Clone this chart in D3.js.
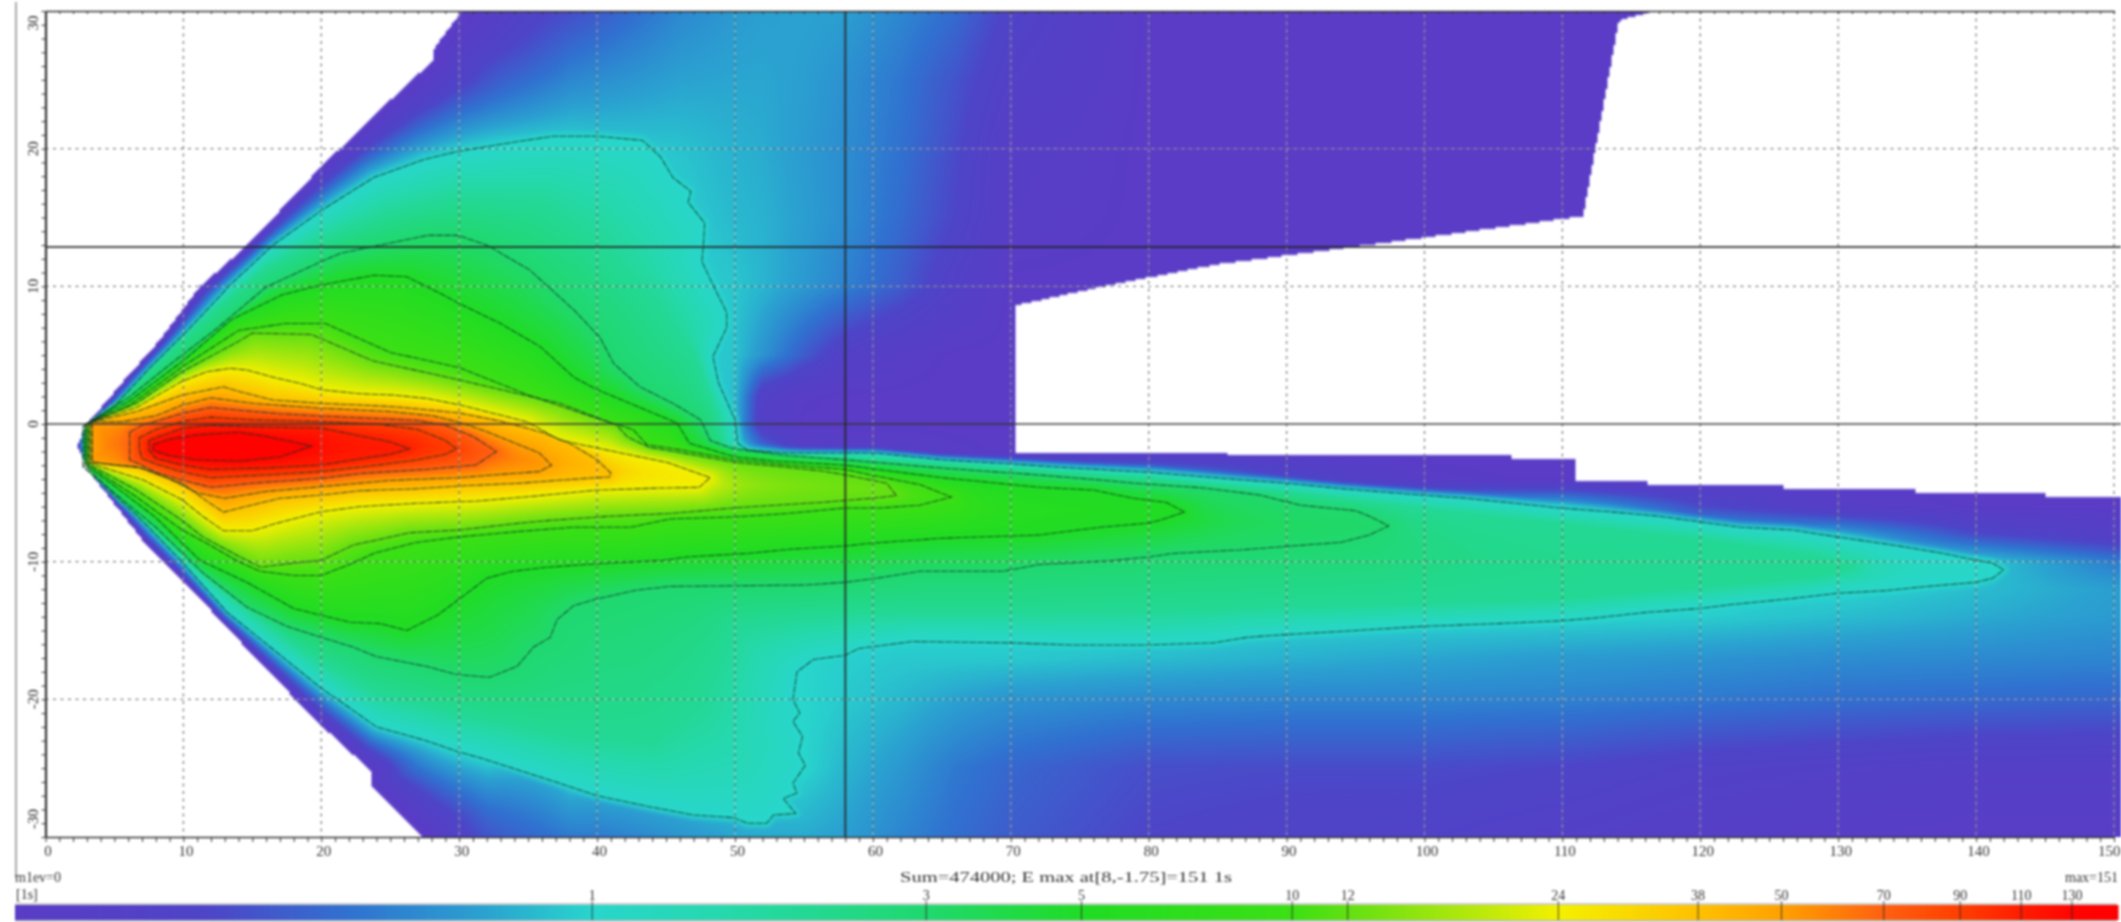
<!DOCTYPE html>
<html>
<head>
<meta charset="utf-8">
<script src="https://d3js.org/d3.v7.min.js"></script>
<style>
    html, body { margin: 0; padding: 0; background: #fff; overflow: hidden; }
    svg { display: block; filter: blur(0.85px); }
    text { font-family: "Liberation Serif", serif; fill: #333; }
    .axis path, .axis line { stroke: #333; }
</style>
</head>
<body>
<svg id="chart" width="2121" height="922"></svg>
<script>
    // contour levels in seconds, colour bar is log scaled over them
    var contourLevels = [1, 3, 5, 10, 12, 24, 38, 50, 70, 90, 110, 130];
    var xTicks = d3.range(0, 151, 10);
    var yTicks = [30, 20, 10, 0, -10, -20, -30];

    var colorStops = [0.15, 0.28, 0.45, 0.7, 1, 1.5, 2, 3, 5, 10, 12, 18, 24, 38, 50, 70, 90, 110, 130, 151];
    var colorValues = ['#5a3cc6', '#4e44c8', '#3072d0', '#2aa2d0', '#28d6cc', '#26d8ae', '#23d894', '#20d86e', '#20dc24', '#3ce014',
        '#62e012', '#b4e80c', '#f4f000', '#ffc000', '#ffa000', '#ff6010', '#ff3e00', '#ff1c00', '#ff0400', '#ff0000'];

    // crosshair position and the stats printed under the plot
    var crossX = 58;
    var crossY = 12.85;
    var maxValue = 151;
    var sumLabel = 'Sum=474000; E max at[8,-1.75]=151 1s';

    // the white notch / cone outline of the field
    var coneUpper = [[2.3, -1.6], [3, 0], [5.9, 3.4], [8.3, 6.1], [11.2, 10], [14.5, 12.85], [20, 18.7], [25.5, 24], [28.2, 26.5], [28.2, 27.3], [30.2, 30]];
    var coneLower = [[27.4, -30], [23.7, -26.4], [23.7, -25.3], [20, -21.9], [15.8, -17.6], [12.9, -14.5], [9.9, -11.3], [7, -8.4], [3.2, -3.5]];
    var rightSide = [[116.6, 30], [114.1, 29.3], [111.5, 15.1], [98.2, 13.3], [85, 11.6], [77.2, 10.1], [70.3, 8.6], [70.3, -2.1],
        [85.7, -2.1], [85.7, -2.28], [106.3, -2.28], [106.3, -2.6], [110.9, -2.6], [110.9, -4.2], [116.2, -4.2], [116.2, -4.4],
        [126, -4.4], [126, -4.7], [135.6, -4.7], [135.6, -5], [145, -5], [145, -5.3], [152, -5.3], [152, -30]];

    // contours, [x, y]
    var level1 = [[2.7, -.2], [5, 1.3], [7.5, 4], [10.5, 7], [13.5, 10.2], [16.5, 13], [20, 15.5], [21.4, 16.4], [23.8, 17.9], [27.4, 19.2], [29.9, 19.8], [33.5, 20.4], [36.8, 20.9], [40, 20.9], [43.3, 20.6], [44.6, 19.4], [45.5, 17.9], [46.8, 16.9], [46.6, 16.1], [47.8, 14.6], [47.7, 12.9], [47.6, 11.8], [48.5, 9.9], [49.4, 8.1], [49.4, 7], [48.4, 4.9], [48.8, 3], [50, .3], [50.2, -1.4], [50.9, -1.9], [53.8, -2.1], [60.1, -2.1], [65, -2.6], [70, -2.9], [74.5, -3.2], [80, -3.5], [86, -4], [90, -4.3], [94, -4.7], [99, -5.1], [103, -5.4], [106, -5.7], [109.8, -6.1], [113.7, -6.4], [117, -6.7], [119.9, -7.1], [122.9, -7.5], [126.7, -7.7], [129.9, -8.2], [134, -8.8], [137.6, -9.4], [140, -9.9], [141.2, -10.1], [142, -10.6], [141.2, -11.2], [140, -11.5], [136.4, -11.8], [133.5, -12.1], [129.9, -12.3], [126.5, -12.7], [122.4, -13.1], [120, -13.4], [115.9, -13.7], [112.3, -14.1], [109.8, -14.3], [105.3, -14.5], [99.9, -14.7], [95.1, -15], [89.8, -15.3], [87.1, -15.5], [84.7, -15.9], [80, -16.05], [74.5, -16.05], [70, -15.9], [62.9, -15.8], [59, -16.3], [58, -16.8], [55.7, -17.1], [54.5, -18], [54.2, -20], [54.7, -21], [54.2, -21.6], [54.9, -22.7], [54.6, -23.9], [55.1, -24.8], [54.2, -26.1], [54.5, -26.8], [53.5, -27.2], [54.4, -28.3], [52.8, -28.4], [52.3, -29], [50.9, -29], [49.9, -28.6], [47, -28.4], [43.8, -27.8], [40, -27], [37.3, -26.1], [31.7, -24.3], [29.9, -23.8], [27.6, -23], [24, -22], [21.6, -20.3], [20, -19.2], [16.3, -16.2], [13.2, -13.7], [9.8, -9.9], [6.5, -6.5], [2.7, -3.1]];
    var level3 = [[2.8, -.1], [6, 1.9], [9, 4.3], [12.5, 7], [16, 9.95], [20, 11.8], [21.4, 12.4], [23.8, 12.9], [27.7, 13.7], [29.9, 13.7], [32, 13], [35.1, 11.2], [38.3, 8.3], [40.2, 6.3], [41.2, 4.4], [43.1, 2.7], [45.5, 1.5], [47.5, .3], [47.8, -.3], [48.2, -1.2], [49.9, -1.8], [53.8, -2.3], [58, -2.6], [65, -3.2], [72, -3.7], [76.5, -4.07], [79, -4.3], [84, -4.65], [88, -5.15], [91, -5.9], [95, -6.3], [96, -6.7], [97.4, -7.4], [96, -8.06], [93.9, -8.6], [91.2, -8.8], [86.6, -9.15], [81.8, -9.4], [80, -9.66], [77, -9.95], [72.1, -10.2], [69.4, -10.7], [63.4, -10.7], [60.3, -11.2], [58, -11.5], [55, -11.7], [45.3, -11.8], [42.9, -12.06], [40, -12.7], [38.3, -13.2], [37.1, -14.2], [36.6, -15.5], [35.4, -16.2], [34.2, -17.6], [32.2, -18.4], [29.8, -18.2], [27.6, -17.6], [24, -16.9], [22.3, -16.2], [20, -15.5], [17.5, -14.7], [14.6, -13.3], [11.4, -10.8], [8, -7.5], [5, -5], [2.8, -3.05]];
    var level5 = [[2.9, 0], [6, 1.6], [10, 4.6], [13.5, 7.6], [17.2, 9.4], [20, 10.1], [23.8, 10.8], [26.2, 10.7], [28.6, 9.5], [29.9, 8.8], [33, 7.3], [35.9, 5.6], [38.3, 3.4], [40, 2.5], [43.1, 1.2], [45.8, .07], [46.7, -1.4], [50, -2.4], [53, -2.7], [58, -3], [65, -3.9], [72.1, -4.6], [76, -4.8], [78.9, -5.4], [81.3, -5.7], [82.6, -6.4], [80.8, -7], [80, -7.2], [76.5, -7.5], [72.1, -8.06], [65, -8.3], [60, -8.65], [58, -8.86], [54.2, -9.08], [50.9, -9.4], [46.5, -9.66], [44.8, -9.9], [40.9, -10.1], [36.4, -10.4], [33.9, -10.7], [32, -11.2], [29.9, -12.8], [28.4, -13.9], [26.2, -15], [24.3, -14.5], [22.1, -14.4], [20, -13.9], [18, -13.4], [14.6, -11.5], [11.2, -9.9], [8, -6.8], [5, -4.5], [2.9, -3]];
    var level10 = [[3, .05], [6, 1.3], [10, 4.2], [14, 6.8], [17.4, 7.3], [20.3, 7.3], [25, 5.2], [30, 4.1], [35, 2.1], [40, .4], [42.6, -.4], [43.6, -1.5], [46.2, -1.9], [50, -2.6], [54, -3], [58, -3.3], [59.8, -3.7], [63.4, -4.4], [65.4, -5.2], [65.7, -5.3], [63.4, -5.9], [60.5, -6.1], [58, -6.1], [53.8, -6.5], [49.9, -6.75], [45.3, -6.9], [42.4, -7.5], [38.3, -7.5], [34.4, -7.8], [30, -8.2], [26.9, -8.6], [23.8, -9.4], [22.3, -10.1], [20, -11], [18, -11], [15.6, -10.7], [14, -10], [11.4, -8.5], [9.9, -7.7], [6.6, -5.3], [3, -2.95]];
    var level12 = [[3.1, .1], [6.6, 1.5], [9.9, 3.8], [14, 6], [15, 6.6], [19.3, 6.5], [23.7, 4.6], [30, 3.2], [37.3, 1.5], [41.4, -.07], [42.2, -.94], [43.8, -1.7], [46.2, -2.1], [50.1, -2.8], [53.3, -3.1], [56.2, -3.4], [58, -3.7], [61, -4.3], [61.7, -5.2], [59.9, -5.4], [56.2, -5.7], [51.3, -6], [49.9, -6.1], [45.3, -6.5], [40.9, -6.7], [36.6, -7], [34.4, -7.2], [30, -7.7], [26.4, -7.9], [22.3, -8.8], [20, -9.9], [18, -10.1], [15.6, -10.4], [14, -9.6], [11.4, -8.2], [9.9, -7], [6.6, -4.8], [3.1, -2.9]];
    var level24 = [[3.2, .12], [6.6, 1.2], [9.9, 3.1], [11.7, 3.8], [13.4, 4.04], [14.6, 3.92], [16.8, 3.32], [18.5, 2.95], [20.1, 2.47], [22.8, 2.2], [25.2, 2.1], [27.6, 1.86], [30, 1.4], [32.5, .77], [34.9, .17], [37.3, -1.17], [41.7, -2.1], [45.1, -2.8], [48.2, -3.9], [47.4, -4.6], [44.6, -4.65], [40, -4.8], [35.9, -5.2], [31.3, -5.6], [26.9, -5.76], [22.8, -6], [20, -6.37], [16.8, -7.2], [15, -7.75], [12.9, -7.75], [11.4, -6.7], [9.9, -5.5], [7.1, -4.07], [3.2, -2.85]];
    var level38 = [[3.3, .14], [6.6, .9], [9.9, 2.1], [11.7, 2.46], [12.9, 2.7], [14.1, 2.35], [16.5, 1.74], [20, 1.5], [22.8, 1.38], [25.2, 1.26], [28, 1], [30, .8], [33, .2], [36, -.6], [38, -1.4], [40, -2.6], [41, -3.56], [40.9, -3.85], [40, -3.9], [37.5, -4.07], [34.4, -4.3], [30, -4.5], [27, -4.7], [22.8, -4.85], [20, -5.16], [17, -5.4], [15.5, -5.76], [12.9, -6.4], [11.7, -5.6], [9.9, -4.3], [6.6, -3.1], [3.3, -2.8]];
    var level50 = [[3.4, .17], [5.6, .17], [8, .6], [10, 1.4], [12, 1.9], [15, 1.5], [20, 1.14], [25, .9], [28, .6], [29.9, .17], [32, -.56], [35.8, -2.1], [36.7, -3], [35.8, -3.46], [32.5, -3.7], [30, -3.9], [25, -4.1], [20, -4.55], [16, -4.9], [13, -5.4], [11, -5], [9, -4], [7, -3.2], [5, -3], [3.4, -2.75]];
    var level70 = [[6.1, -.6], [7, -.1], [8, .2], [10, .8], [12, 1.2], [14, 1], [17, .75], [20, .58], [24, .4], [27, .25], [29, -.1], [31, -.9], [32.7, -2], [31.2, -2.98], [27.6, -3.3], [22.8, -3.6], [20, -3.95], [15, -4.3], [12, -4.6], [10, -4.1], [8, -3.5], [7, -3], [6.1, -2.6]];
    var level90 = [[6.8, -1], [8, -.4], [10, .2], [12, .5], [15, .3], [20, .17], [24, 0], [27, -.4], [29, -1.2], [29.8, -1.8], [29, -2.2], [27, -2.6], [24, -3], [20, -3.46], [16, -3.7], [12, -3.9], [10, -3.5], [8, -2.9], [7, -2.5], [6.8, -1.8]];
    var level110 = [[7.5, -1.2], [8, -1], [10, -.3], [12, -.1], [15, -.2], [20, -.3], [23, -.9], [25, -1.3], [26.4, -1.8], [25, -2.2], [23, -2.5], [20, -2.98], [16, -3.2], [12, -3.3], [10, -3], [8, -2.5], [7.5, -1.9]];
    var level130 = [[7.8, -1.5], [9, -1.1], [11, -.8], [14, -.6], [16, -.9], [19.3, -1.6], [17, -2.4], [14, -2.7], [11, -2.6], [9, -2.3], [7.8, -1.9]];
    var contourPaths = [level1, level3, level5, level10, level12, level24, level38, level50, level70, level90, level110, level130];

    // an undrawn 2 s ridge, the colour keeps rising past the nose of the 3 s line
    var ridge2 = [[2.75, -.15], [5.5, 1.9], [8, 4.4], [12, 8.2], [16, 11.4], [20, 13.4], [25, 15.3], [30, 16.3], [36, 15.8], [40, 13], [44, 9], [47, 5], [48.6, 1], [49.2, -1.6], [54, -2.2], [60, -2.5], [70, -3.2], [80, -3.9], [90, -4.9], [100, -6.2], [110, -7.3], [120, -8.4], [128, -9.6], [131, -10.4], [128, -11.1], [120, -11.8], [110, -12.6], [100, -13], [90, -13.2], [80, -13.6], [70, -13.7], [60, -13.7], [55, -14], [50, -14.6], [47.5, -20], [44, -23], [38, -22.5], [30, -21], [24, -19.5], [20, -17.3], [16, -14.5], [12, -11.5], [8, -8], [5, -5.3], [2.75, -3.07]];
    var fieldLevels = [1, 2].concat(contourLevels.slice(1));
    var fieldPaths = [level1, ridge2].concat(contourPaths.slice(1));

    // values under 1 s outside the outer contour, read per row (bgY) and column (bgX)
    var bgX = [30, 38, 46, 50, 52, 55, 58, 62, 66, 70, 80, 90, 100, 110, 120, 130, 140, 150];
    var bgY = [30, 25, 20, 15, 10, 5, 2, 0, -2, -4, -6, -8, -10, -12, -14, -17, -20, -25, -30];
    var bgValues = [
        [.15, .3, .55, .65, .68, .7, .68, .55, .42, .26, .15, .15, .15, .15, .15, .15, .15, .15],
        [.22, .55, .7, .72, .72, .68, .6, .47, .33, .22, .15, .15, .15, .15, .15, .15, .15, .15],
        [.9, .98, .88, .78, .75, .66, .58, .45, .3, .18, .15, .15, .15, .15, .15, .15, .15, .15],
        [1, 1, .95, .82, .78, .68, .58, .42, .28, .17, .15, .15, .15, .15, .15, .15, .15, .15],
        [1, 1, 1, .9, .8, .65, .52, .36, .22, .15, .15, .15, .15, .15, .15, .15, .15, .15],
        [1, 1, 1, .88, .62, .36, .22, .17, .15, .15, .15, .15, .15, .15, .15, .15, .15, .15],
        [1, 1, 1, .85, .22, .16, .15, .15, .15, .15, .15, .15, .15, .15, .15, .15, .15, .15],
        [1, 1, 1, .85, .2, .15, .15, .15, .15, .15, .15, .15, .15, .15, .15, .15, .15, .15],
        [1, 1, 1, 1, .5, .2, .18, .18, .16, .15, .15, .15, .15, .15, .15, .15, .15, .15],
        [1, 1, 1, 1, 1, 1, 1, 1, 1, 1, .85, .3, .16, .15, .15, .15, .15, .15],
        [1, 1, 1, 1, 1, 1, 1, 1, 1, 1, 1, 1, .95, .85, .3, .18, .15, .15],
        [1, 1, 1, 1, 1, 1, 1, 1, 1, 1, 1, 1, 1, 1, .85, .75, .3, .2],
        [1, 1, 1, 1, 1, 1, 1, 1, 1, 1, 1, 1, 1, 1, 1, 1, .95, .5],
        [1, 1, 1, 1, 1, 1, 1, 1, 1, 1, 1, 1, 1, 1, 1, 1, .85, .68],
        [1, 1, 1, 1, 1, 1, 1, 1, 1, 1, 1, 1, 1, 1, .95, .85, .75, .66],
        [1, 1, 1, 1, 1, 1, .95, .92, .92, .92, .85, .78, .72, .66, .62, .58, .56, .54],
        [1, 1, 1, 1, 1, 1, .92, .82, .7, .62, .56, .54, .54, .52, .48, .44, .42, .4],
        [.2, .95, 1, 1, 1, 1, .8, .64, .48, .4, .31, .3, .3, .28, .24, .22, .2, .2],
        [.16, .45, .62, .72, .74, .74, .68, .54, .43, .36, .28, .26, .25, .22, .19, .17, .16, .16]
    ];

    var width = 2121;
    var height = 922;
    var plotLeft = 45.5;
    var plotTop = 11;
    var plotBottom = 837;

    var x = d3.scaleLinear().domain([0, 150]).range([plotLeft, plotLeft + 150 * 13.79]);
    var y = d3.scaleLinear().domain([30, -30]).range([plotTop, plotBottom]);
    var color = d3.scaleLog().domain(colorStops).range(colorValues).interpolate(d3.interpolateRgb).clamp(true);
    var barX = d3.scaleLog().domain([0.15, maxValue]).range([15, 2117]);

    var svg = d3.select('#chart');

    var outline = coneUpper.concat(rightSide, coneLower);
    var coneEdge = coneUpper.slice().reverse().concat(coneLower.slice().reverse());

    function box(pts) {
        return [d3.min(pts, function(p) { return p[0]; }), d3.max(pts, function(p) { return p[0]; }),
            d3.min(pts, function(p) { return p[1]; }), d3.max(pts, function(p) { return p[1]; })];
    }
    var boxes = fieldPaths.map(box);

    function inside(i, px, py) {
        var b = boxes[i];
        if (px < b[0] || px > b[1] || py < b[2] || py > b[3]) return false;
        return d3.polygonContains(fieldPaths[i], [px, py]);
    }

    function distTo(pts, px, py, closed) {
        var best = Infinity;
        var n = pts.length;
        var last = closed ? n : n - 1;
        for (var i = 0; i < last; i++) {
            var a = pts[i], b = pts[(i + 1) % n];
            var dx = b[0] - a[0], dy = b[1] - a[1];
            var t = ((px - a[0]) * dx + (py - a[1]) * dy) / (dx * dx + dy * dy || 1);
            t = t < 0 ? 0 : t > 1 ? 1 : t;
            var ex = a[0] + t * dx - px, ey = a[1] + t * dy - py;
            var d = ex * ex + ey * ey;
            if (d < best) best = d;
        }
        return Math.sqrt(best);
    }

    function bgLookup(px, py) {
        var i = Math.min(Math.max(d3.bisectRight(bgX, px) - 1, 0), bgX.length - 2);
        var j = 0;
        while (j < bgY.length - 2 && py < bgY[j + 1]) j++;
        var u = Math.min(Math.max((px - bgX[i]) / (bgX[i + 1] - bgX[i]), 0), 1);
        var v = Math.min(Math.max((bgY[j] - py) / (bgY[j] - bgY[j + 1]), 0), 1);
        var a = Math.log(bgValues[j][i]), b = Math.log(bgValues[j][i + 1]);
        var c = Math.log(bgValues[j + 1][i]), e = Math.log(bgValues[j + 1][i + 1]);
        return (a * (1 - u) + b * u) * (1 - v) + (c * (1 - u) + e * u) * v;
    }

    function fieldAt(px, py) {
        var idx = -1;
        for (var i = 0; i < fieldPaths.length; i++) {
            if (inside(i, px, py)) idx = i; else if (i > idx + 1) break;
        }
        if (idx == fieldPaths.length - 1) return 140;
        if (idx >= 0) {
            var d0 = distTo(fieldPaths[idx], px, py, true);
            var d1 = distTo(fieldPaths[idx + 1], px, py, true);
            var t = d0 / (d0 + d1);
            return Math.exp(Math.log(fieldLevels[idx]) * (1 - t) + Math.log(fieldLevels[idx + 1]) * t);
        }
        var dc = distTo(level1, px, py, true);
        var lv = 0;
        var w = (px - 32) / 8;
        w = w < 0 ? 0 : w > 1 ? 1 : w;
        if (w < 1) {
            var de = distTo(coneEdge, px, py, false);
            lv += (1 - w) * (dc / (dc + de)) * Math.log(0.13);
        }
        if (w > 0) {
            var m = bgLookup(px, py);
            var f = dc / 0.5;
            f = f > 1 ? 1 : f;
            lv += w * m * f;
        }
        return Math.exp(lv);
    }

    // paint the field to a canvas, half resolution, then place it in the svg
    var step = 2;
    var cw = Math.ceil((width - plotLeft) / step);
    var ch = Math.ceil((plotBottom - plotTop) / step);
    var canvas = document.createElement('canvas');
    canvas.width = cw;
    canvas.height = ch;
    var ctx = canvas.getContext('2d');
    var img = ctx.createImageData(cw, ch);
    var cache = {};
    for (var r = 0; r < ch; r++) {
        var py = y.invert(plotTop + (r + 0.5) * step);
        for (var c = 0; c < cw; c++) {
            var px = x.invert(plotLeft + (c + 0.5) * step);
            if (!d3.polygonContains(outline, [px, py])) continue;
            var val = fieldAt(px, py);
            var key = Math.round(Math.log(val) * 150);
            var rgb = cache[key];
            if (!rgb) rgb = cache[key] = d3.rgb(color(val));
            var o = (r * cw + c) * 4;
            img.data[o] = rgb.r;
            img.data[o + 1] = rgb.g;
            img.data[o + 2] = rgb.b;
            img.data[o + 3] = 255;
        }
    }
    ctx.putImageData(img, 0, 0);

    svg.append('image')
        .attr('x', plotLeft)
        .attr('y', plotTop)
        .attr('width', cw * step)
        .attr('height', ch * step)
        .attr('preserveAspectRatio', 'none')
        .attr('href', canvas.toDataURL());

    // dotted grid, grey dash and white dash in between
    var grid = svg.append('g');
    function gridLines(cls, stroke, dash, off, alpha) {
        grid.selectAll('line.v' + cls).data(xTicks.slice(1))
            .enter().append('line').attr('class', 'v' + cls)
            .attr('x1', function(d) { return x(d); }).attr('x2', function(d) { return x(d); })
            .attr('y1', plotTop).attr('y2', plotBottom)
            .attr('stroke', stroke).attr('stroke-width', 1.3).attr('stroke-opacity', alpha)
            .attr('stroke-dasharray', dash).attr('stroke-dashoffset', off);
        grid.selectAll('line.h' + cls).data([20, 10, -10, -20])
            .enter().append('line').attr('class', 'h' + cls)
            .attr('x1', plotLeft).attr('x2', width)
            .attr('y1', function(d) { return y(d); }).attr('y2', function(d) { return y(d); })
            .attr('stroke', stroke).attr('stroke-width', 1.3).attr('stroke-opacity', alpha)
            .attr('stroke-dasharray', dash).attr('stroke-dashoffset', off);
    }
    gridLines('g', '#6d6d6d', '3 4.5', 0, 0.9);
    gridLines('w', '#ffffff', '2 5.5', 3.5, 0.55);

    // contours
    var line = d3.line().x(function(d) { return x(d[0]); }).y(function(d) { return y(d[1]); });
    svg.append('g').selectAll('path').data(contourPaths)
        .enter().append('path')
        .attr('d', function(d) { return line(d) + 'Z'; })
        .attr('fill', 'none')
        .attr('stroke', '#0c3320')
        .attr('stroke-opacity', 0.8)
        .attr('stroke-width', 1.05)
        .attr('stroke-dasharray', '7 1');

    // y = 0 line and the crosshair
    svg.append('line').attr('x1', plotLeft).attr('x2', width).attr('y1', y(0)).attr('y2', y(0))
        .attr('stroke', '#333').attr('stroke-opacity', 0.7).attr('stroke-width', 2);
    svg.append('line').attr('x1', plotLeft).attr('x2', width).attr('y1', y(crossY)).attr('y2', y(crossY))
        .attr('stroke', '#222').attr('stroke-opacity', 0.8).attr('stroke-width', 2);
    svg.append('line').attr('x1', x(crossX)).attr('x2', x(crossX)).attr('y1', plotTop).attr('y2', plotBottom)
        .attr('stroke', '#222').attr('stroke-opacity', 0.8).attr('stroke-width', 2);

    // outer grey rule on the far left
    svg.append('line').attr('x1', 16).attr('x2', 16).attr('y1', 2).attr('y2', 878)
        .attr('stroke', '#aaa').attr('stroke-width', 2);

    // axes
    var minor = function(s) {
        s.selectAll('text').remove();
        s.selectAll('line').attr('stroke', '#444');
    };
    svg.append('g').attr('class', 'axis').attr('transform', 'translate(' + plotLeft + ',0)')
        .call(d3.axisLeft(y).tickValues(d3.range(-30, 31)).tickSize(4).tickSizeOuter(0).tickFormat(''))
        .call(minor)
        .select('path').attr('stroke-width', 2.2);
    svg.append('g').attr('class', 'axis').attr('transform', 'translate(0,' + plotTop + ')')
        .call(d3.axisTop(x).tickValues(d3.range(0, 151)).tickSize(-3).tickSizeOuter(0).tickFormat(''))
        .call(minor)
        .select('path').attr('stroke-width', 1.6);
    svg.append('g').attr('class', 'axis').attr('transform', 'translate(0,' + plotBottom + ')')
        .call(d3.axisBottom(x).tickValues(d3.range(0, 151)).tickSize(5).tickSizeOuter(0).tickFormat(''))
        .call(minor)
        .select('path').attr('stroke-width', 1.6);

    var xLabels = svg.append('g').attr('transform', 'translate(0,' + (plotBottom + 6) + ')')
        .call(d3.axisBottom(x).tickValues(xTicks).tickSize(0).tickPadding(2));
    xLabels.select('path').remove();
    xLabels.selectAll('text')
        .style('font-size', '15px')
        .attr('text-anchor', function(d) { return d == 150 ? 'end' : 'middle'; })
        .attr('dx', function(d) { return d == 150 ? 6 : 2; });

    svg.append('g').selectAll('text').data(yTicks)
        .enter().append('text')
        .attr('transform', function(d) {
            var yy = y(d);
            if (d == 30) yy += 12;
            if (d == -30) yy -= 18;
            return 'translate(38,' + yy + ') rotate(-90)';
        })
        .attr('text-anchor', 'middle')
        .style('font-size', '15px')
        .text(function(d) { return d; });

    // lines under the plot
    svg.append('text').attr('x', 15).attr('y', 882).style('font-size', '14px').text('m1ev=0');
    svg.append('text').attr('x', 16).attr('y', 899).style('font-size', '14px').text('[1s]');
    svg.append('text').attr('x', 900).attr('y', 882).attr('textLength', 332).attr('lengthAdjust', 'spacingAndGlyphs')
        .style('font-size', '15px').text(sumLabel);
    svg.append('text').attr('x', 2118).attr('y', 882).attr('text-anchor', 'end').style('font-size', '14px').text('max=' + maxValue);

    // colour bar
    var barBottom = 920;
    var barTop = 905;
    var barRange = d3.range(15, 2117, 3);
    svg.append('g').selectAll('rect').data(barRange)
        .enter().append('rect')
        .attr('x', function(d) { return d; })
        .attr('y', barTop)
        .attr('width', 3.5)
        .attr('height', barBottom - barTop)
        .attr('fill', function(d) { return color(barX.invert(d)); });
    svg.append('line').attr('x1', 15).attr('x2', 2117).attr('y1', barTop - 1).attr('y2', barTop - 1).attr('stroke', '#bbb').attr('stroke-width', 1.5);
    svg.append('line').attr('x1', 15).attr('x2', 2117).attr('y1', barBottom + 1).attr('y2', barBottom + 1).attr('stroke', '#aaa').attr('stroke-width', 1.5);

    var barAxis = svg.append('g').attr('transform', 'translate(0,' + barBottom + ')')
        .call(d3.axisTop(barX).tickValues(contourLevels).tickSize(19).tickPadding(1).tickFormat(d3.format('d')));
    barAxis.select('path').remove();
    barAxis.selectAll('line').attr('stroke', '#222').attr('stroke-opacity', 0.8);
    barAxis.selectAll('text').style('font-size', '14px');
</script>
</body>
</html>
